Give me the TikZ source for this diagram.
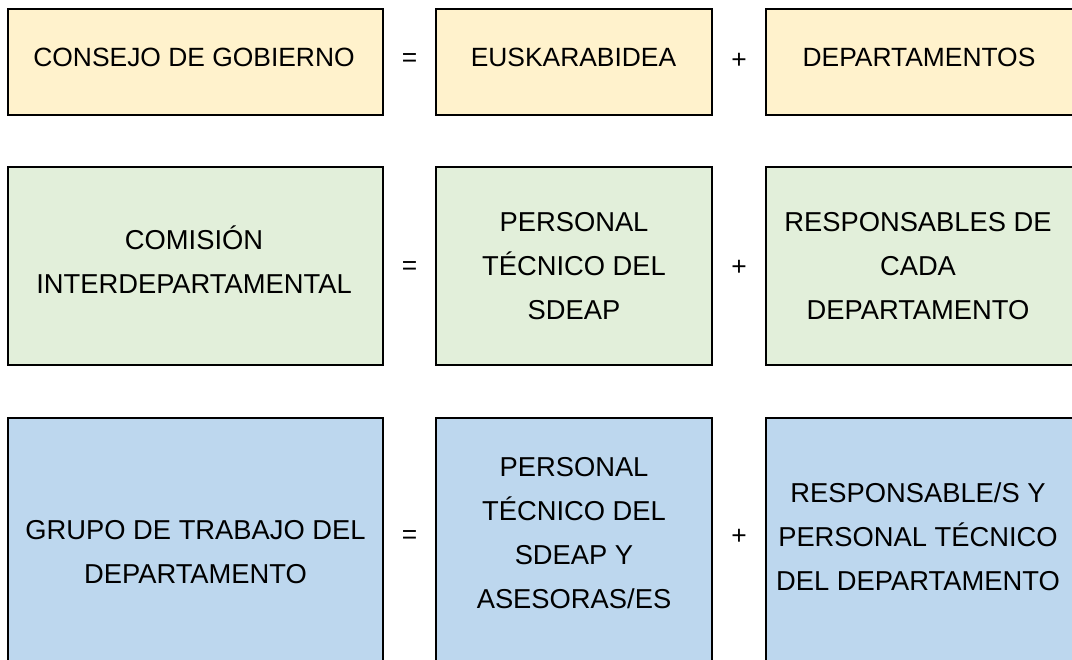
\documentclass[tikz,border=0pt]{standalone}
\usepackage{fontspec}
\setmainfont{Liberation Sans}
\usepackage{tikz}
\usepackage{xcolor}

\definecolor{consejoY}{HTML}{FFF2CC}
\definecolor{comisionG}{HTML}{E2EFDA}
\definecolor{grupoB}{HTML}{BDD7EE}

% same height and depth on every line, so that the caps sit in the middle
\newcommand{\lstr}{\rule[-0.3em]{0pt}{1.316em}}

\tikzset{
  boxline/.style={draw=black, line width=1.5pt},
  txt/.style={inner sep=0pt, align=center, font=\fontsize{20.5}{33}\selectfont},
  txttop/.style={txt, font=\fontsize{19.8}{33}\selectfont},
}

\begin{document}
\begin{tikzpicture}[x=0.75pt,y=0.75pt,yscale=-1,xscale=1]
    \useasboundingbox (0,0) rectangle (1072,660);
    \clip (0,0) rectangle (1072,660);

    %Shape: Rectangle [id:row1]
    \draw [boxline, fill=consejoY] (8,9) rectangle (383,115) ;
    \draw [boxline, fill=consejoY] (436,9) rectangle (712,115) ;
    \draw [boxline, fill=consejoY] (766,9) rectangle (1100,115) ;
    %Shape: Rectangle [id:row2]
    \draw [boxline, fill=comisionG] (8,167) rectangle (383,365) ;
    \draw [boxline, fill=comisionG] (436,167) rectangle (712,365) ;
    \draw [boxline, fill=comisionG] (766,167) rectangle (1100,365) ;
    %Shape: Rectangle [id:row3]
    \draw [boxline, fill=grupoB] (8,418) rectangle (383,700) ;
    \draw [boxline, fill=grupoB] (436,418) rectangle (712,700) ;
    \draw [boxline, fill=grupoB] (766,418) rectangle (1100,700) ;

    % Text Node
    \node [txttop] (consejo) at (194,57) {\lstr CONSEJO DE GOBIERNO};
    % Text Node
    \node [txttop] (euskara) at (573.5,57) {\lstr EUSKARABIDEA};
    % Text Node
    \node [txttop] (deptos) at (919,57) {\lstr DEPARTAMENTOS};

    % Text Node
    \node [txt] (comision) at (194,262) {\lstr COMISIÓN\\\lstr INTERDEPARTAMENTAL};
    % Text Node
    \node [txt] (sdeap) at (574,265.5) {\lstr PERSONAL\\\lstr TÉCNICO DEL\\\lstr SDEAP};
    % Text Node
    \node [txt] (respcada) at (918,265.5) {\lstr RESPONSABLES DE\\\lstr CADA\\\lstr DEPARTAMENTO};

    % Text Node
    \node [txt] (grupo) at (195.5,551.5) {\lstr GRUPO DE TRABAJO DEL\\\lstr DEPARTAMENTO};
    % Text Node
    \node [txt] (asesoras) at (574,532.5) {\lstr PERSONAL\\\lstr TÉCNICO DEL\\\lstr SDEAP Y\\\lstr ASESORAS/ES};
    % Text Node
    \node [txt] (respdep) at (918,536.5) {\lstr RESPONSABLE/S Y\\\lstr PERSONAL TÉCNICO\\\lstr DEL DEPARTAMENTO};

    % Text Node
    \node [txttop] (eq1) at (409.5,60) {=};
    \node [txttop] (eq2) at (409.5,268) {=};
    \node [txttop] (eq3) at (409.5,537) {=};
    % Text Node
    \node [txttop] (plus1) at (739,61) {+};
    \node [txttop] (plus2) at (739,268) {+};
    \node [txttop] (plus3) at (739,537) {+};

\end{tikzpicture}
\end{document}
